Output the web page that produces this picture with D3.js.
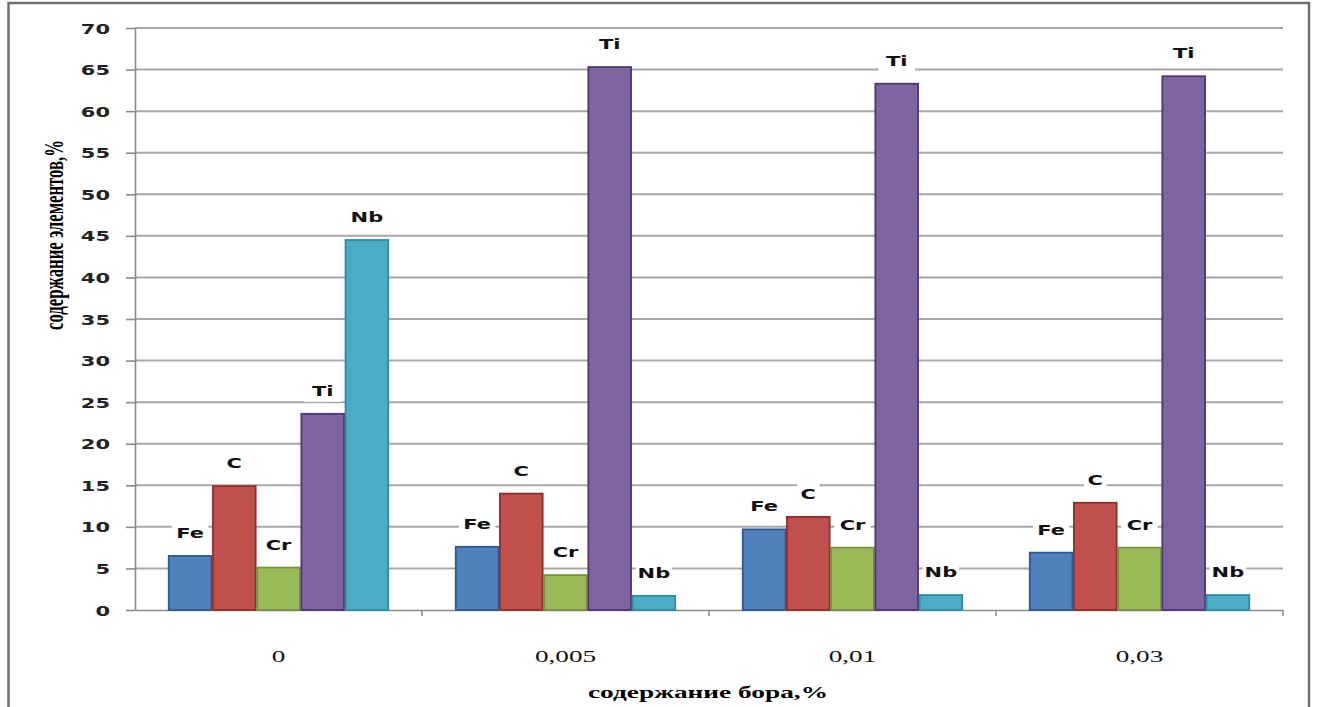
<!DOCTYPE html>
<html>
<head>
<meta charset="utf-8">
<script src="https://cdn.jsdelivr.net/npm/d3@7/dist/d3.min.js"></script>
<style>
  html, body { margin: 0; padding: 0; background: #fff; }
  svg { display: block; }
</style>
</head>
<body>
<svg id="chart" width="1317" height="707"></svg>
<script>
// ---- data ----
const categories = ["0", "0,005", "0,01", "0,03"];
const seriesNames = ["Fe", "C", "Cr", "Ti", "Nb"];
const Fe = [6.5, 7.6, 9.7, 6.9];
const C  = [14.9, 14.0, 11.2, 12.9];
const Cr = [5.1, 4.2, 7.5, 7.5];
const Ti = [23.6, 65.3, 63.3, 64.2];
const Nb = [44.5, 1.7, 1.8, 1.8];
const yTicks = [0, 5, 10, 15, 20, 25, 30, 35, 40, 45, 50, 55, 60, 65, 70];
const yTitle = "содержание элементов,%";
const xTitle = "содержание бора,%";

// ---- styles ----
const fills   = ["#4F81BD", "#C0504D", "#9BBB59", "#8064A2", "#4BACC6"];
const strokes = ["#2F5A91", "#8E2F2C", "#76913F", "#4E3772", "#2F8AA3"];
const SX = 1.5; // horizontal stretch of the original picture

const valuesBySeries = [Fe, C, Cr, Ti, Nb];
const rows = [];
categories.forEach((cat, ci) => {
  seriesNames.forEach((s, si) => {
    rows.push({ cat, series: s, si, value: valuesBySeries[si][ci] });
  });
});

const svg = d3.select("#chart");
const pLeft = 135, pRight = 1283, pTop = 28, pBottom = 610;

// outer frame
svg.append("rect")
  .attr("x", 8.5).attr("y", 3).attr("width", 1300.5).attr("height", 720)
  .attr("fill", "none").attr("stroke", "#6f6f6f").attr("stroke-width", 2.5);

const x0 = d3.scaleBand().domain(categories).range([pLeft, pRight]).paddingInner(0).paddingOuter(0);
const bw = x0.bandwidth();
const x1 = d3.scaleBand().domain(seriesNames).range([33, bw - 33]).padding(0);
const y = d3.scaleLinear().domain([0, 70]).range([pBottom, pTop]);

// gridlines
svg.append("g")
  .selectAll("line")
  .data(yTicks.filter(t => t > 0))
  .join("line")
  .attr("x1", pLeft).attr("x2", pRight)
  .attr("y1", d => y(d)).attr("y2", d => y(d))
  .attr("stroke", "#a8a8a8").attr("stroke-width", 2);

// y axis
const yAxis = svg.append("g")
  .attr("transform", `translate(${pLeft},0)`)
  .call(d3.axisLeft(y).tickValues(yTicks).tickSize(9).tickPadding(0).tickSizeOuter(0));
yAxis.select(".domain").attr("stroke", "#8a8a8a").attr("stroke-width", 1.6);
yAxis.selectAll(".tick line").attr("stroke", "#8a8a8a").attr("stroke-width", 1.6);
yAxis.selectAll(".tick text")
  .attr("x", 0)
  .attr("dy", "0.36em")
  .attr("transform", `translate(-25,0) scale(${SX},1)`)
  .attr("font-family", "DejaVu Sans")
  .attr("font-weight", "bold")
  .attr("font-size", 14)
  .attr("fill", "#222");

// x axis
const xAxis = svg.append("g")
  .attr("transform", `translate(0,${pBottom})`)
  .call(d3.axisBottom(x0).tickSize(0).tickPadding(0));
xAxis.select(".domain").attr("stroke", "#8a8a8a").attr("stroke-width", 1.6);
xAxis.selectAll(".tick text")
  .attr("y", 0)
  .attr("dy", 0)
  .attr("transform", `translate(0,52) scale(1.6,1)`)
  .attr("font-family", "Liberation Serif")
  .attr("font-size", 17)
  .attr("fill", "#111");
// band boundary tick marks
svg.append("g")
  .selectAll("line")
  .data(categories)
  .join("line")
  .attr("x1", d => x0(d) + bw).attr("x2", d => x0(d) + bw)
  .attr("y1", pBottom).attr("y2", pBottom + 6)
  .attr("stroke", "#8a8a8a").attr("stroke-width", 1.5);

// bars
const groups = svg.append("g")
  .selectAll("g")
  .data(categories)
  .join("g")
  .attr("transform", d => `translate(${x0(d)},0)`);

groups.selectAll("rect")
  .data(cat => rows.filter(r => r.cat === cat))
  .join("rect")
  .attr("x", d => x1(d.series) + 0.75)
  .attr("width", x1.bandwidth() - 1.5)
  .attr("y", d => y(d.value))
  .attr("height", d => y(0) - y(d.value))
  .attr("fill", d => fills[d.si])
  .attr("stroke", d => strokes[d.si])
  .attr("stroke-width", 1.8);

// labels with white background
const lbl = groups.selectAll("g.lbl")
  .data(cat => rows.filter(r => r.cat === cat))
  .join("g")
  .attr("class", "lbl")
  .attr("transform", d => `translate(${x1(d.series) + x1.bandwidth() / 2},${y(d.value) - 23})`);

lbl.append("rect")
  .attr("x", d => -(d.series.length * 9.5 * SX) / 2 - 4)
  .attr("y", -11)
  .attr("width", d => d.series.length * 9.5 * SX + 8)
  .attr("height", 22)
  .attr("fill", "#fff");

lbl.append("text")
  .attr("transform", `scale(${SX},1)`)
  .attr("text-anchor", "middle")
  .attr("dy", "0.36em")
  .attr("font-family", "DejaVu Sans")
  .attr("font-weight", "bold")
  .attr("font-size", 14)
  .attr("fill", "#111")
  .text(d => d.series);

// y title
svg.append("text")
  .attr("transform", `translate(63,235) rotate(-90) scale(1,1.75)`)
  .attr("text-anchor", "middle")
  .attr("font-family", "Liberation Serif")
  .attr("font-weight", "bold")
  .attr("font-size", 16)
  .attr("textLength", 190)
  .attr("lengthAdjust", "spacingAndGlyphs")
  .attr("fill", "#000")
  .text(yTitle);

// x title
svg.append("text")
  .attr("x", 708)
  .attr("y", 698)
  .attr("text-anchor", "middle")
  .attr("font-family", "Liberation Serif")
  .attr("font-weight", "bold")
  .attr("font-size", 17)
  .attr("textLength", 240)
  .attr("lengthAdjust", "spacingAndGlyphs")
  .attr("fill", "#000")
  .text(xTitle);
</script>
</body>
</html>
